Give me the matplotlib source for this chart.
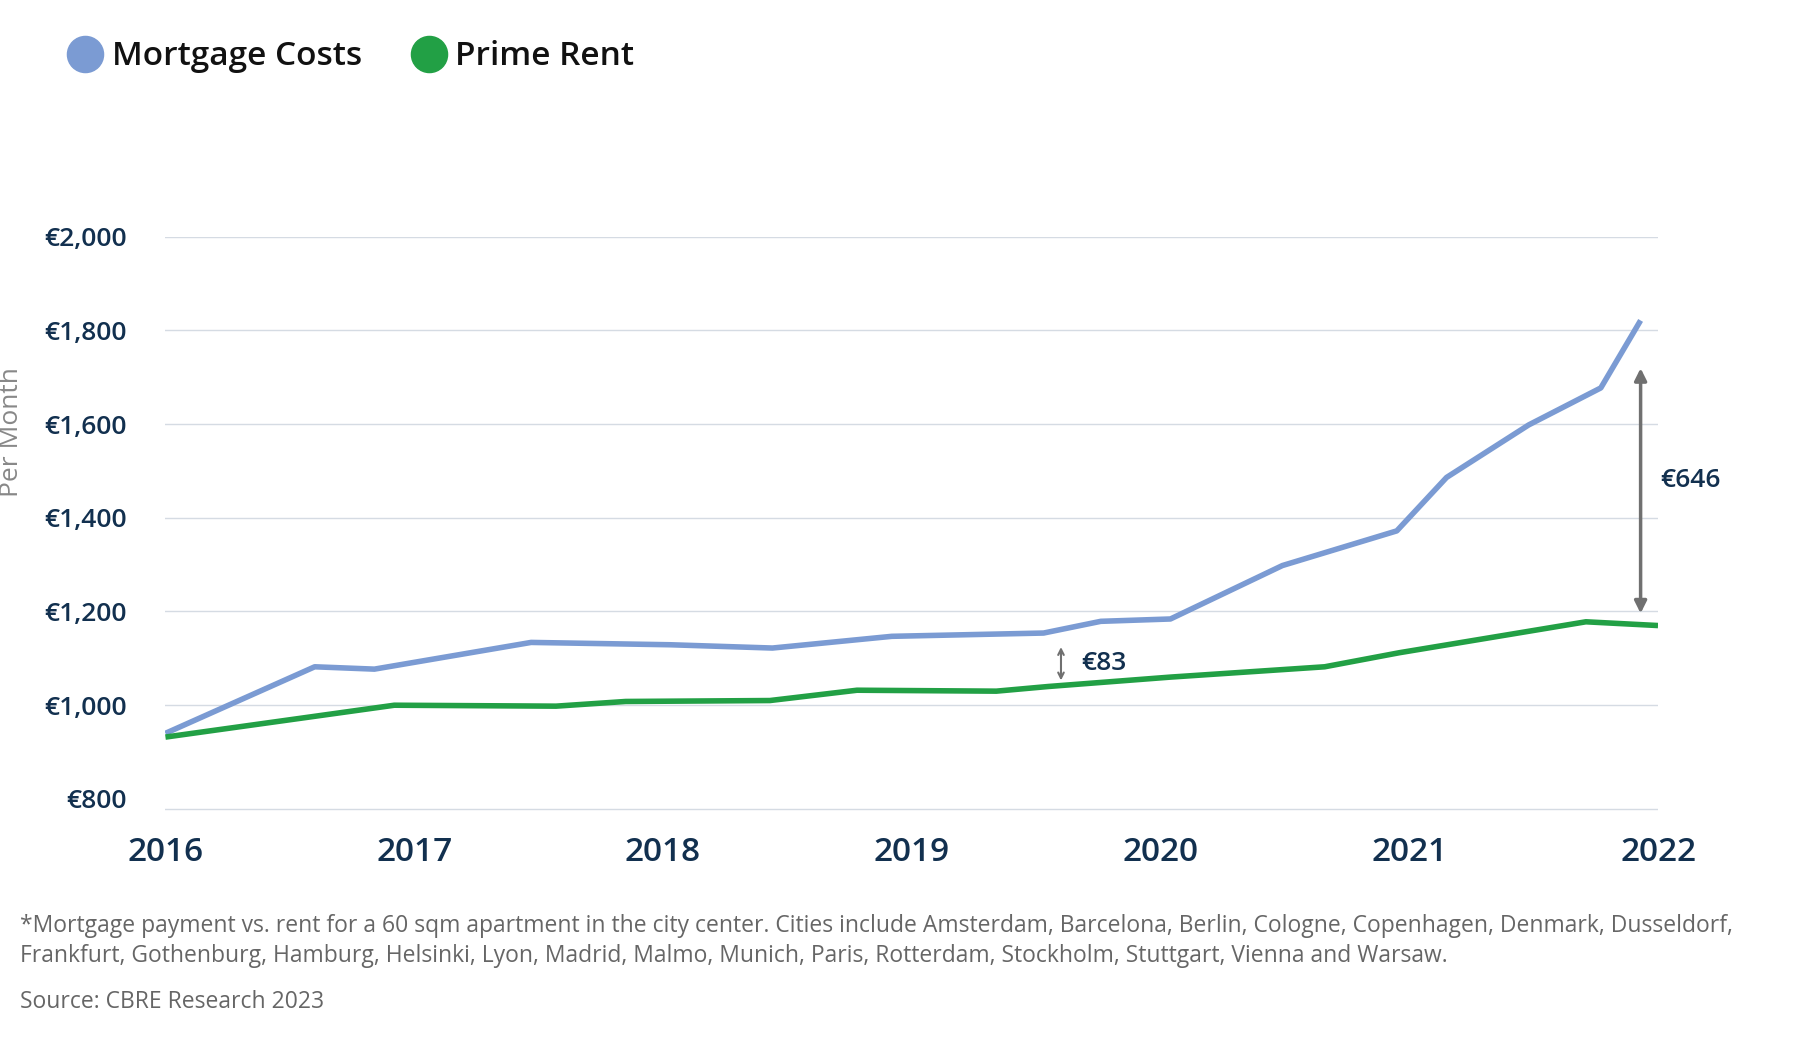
import matplotlib.pyplot as plt
from matplotlib.lines import Line2D

plt.rcParams['font.family'] = ['Open Sans', 'DejaVu Sans']

mort_x = [2016.0, 2016.60, 2016.84, 2017.47, 2018.03, 2018.44, 2018.92, 2019.53,
          2019.76, 2020.04, 2020.49, 2020.95, 2021.15, 2021.48, 2021.77, 2021.93]
mort_y = [940, 1082, 1077, 1134, 1129, 1122, 1147, 1154,
          1179, 1184, 1298, 1372, 1486, 1598, 1677, 1821]
rent_x = [2016.0, 2016.92, 2017.57, 2017.85, 2018.43, 2018.78, 2019.34, 2019.55,
          2020.04, 2020.66, 2020.96, 2021.71, 2022.0]
rent_y = [932, 1000, 998, 1008, 1010, 1032, 1030, 1040,
          1060, 1082, 1112, 1178, 1170]
years = [2016, 2017, 2018, 2019, 2020, 2021, 2022]
yticks = [800, 1000, 1200, 1400, 1600, 1800, 2000]

navy = '#12304f'
blue = '#7b9bd3'
green = '#22a045'

fig = plt.figure(figsize=(18.18, 10.42), dpi=100)
ax = fig.add_axes([0.091, 0.222, 0.821, 0.551])
ax.plot(mort_x, mort_y, color=blue, lw=4, solid_capstyle='butt')
ax.plot(rent_x, rent_y, color=green, lw=4, solid_capstyle='butt')
ax.set_xlim(2016, 2022)
ax.set_ylim(775, 2000)
for v in yticks:
    ax.axhline(v if v > 800 else 778, color='#d5dbe3', lw=1, zorder=0)
for s in ax.spines.values():
    s.set_visible(False)
ax.set_yticks(yticks)
ax.set_yticklabels([f'€{v:,}' for v in yticks], fontsize=19, fontweight='semibold', color=navy)
ax.tick_params(axis='y', length=0, pad=28)
ax.set_xticks(years)
ax.set_xticklabels([str(y) for y in years], fontsize=24, fontweight='semibold', color=navy)
ax.tick_params(axis='x', length=0, pad=18)
ax.set_ylabel('Per Month', fontsize=19, color='#888888')
ax.yaxis.set_label_coords(-0.095, 0.66)

# gap annotations
ax.annotate('', xy=(2019.6, 1047), xytext=(2019.6, 1130),
            arrowprops=dict(arrowstyle='<->', color='#707070', lw=1.5))
ax.text(2019.68, 1090, '€83', fontsize=19, color=navy, va='center', fontweight='semibold')
ax.annotate('', xy=(2021.93, 1190), xytext=(2021.93, 1725),
            arrowprops=dict(arrowstyle='<|-|>', color='#707070', lw=2.5, mutation_scale=18))
ax.text(2022.01, 1480, '€646', fontsize=19, color=navy, va='center', fontweight='semibold')

# legend
handles = [Line2D([], [], marker='o', ls='', ms=26, color=blue),
           Line2D([], [], marker='o', ls='', ms=26, color=green)]
leg = fig.legend(handles, ['Mortgage Costs', 'Prime Rent'], loc='upper left',
                 bbox_to_anchor=(0.012, 0.99), ncol=2, frameon=False,
                 fontsize=24, handletextpad=-0.2, columnspacing=1.0)
for t in leg.get_texts():
    t.set_color('#111111')
    t.set_fontweight('semibold')

fig.text(0.011, 0.097, '*Mortgage payment vs. rent for a 60 sqm apartment in the city center. '
         'Cities include Amsterdam, Barcelona, Berlin, Cologne, Copenhagen, Denmark, Dusseldorf,\n'
         'Frankfurt, Gothenburg, Hamburg, Helsinki, Lyon, Madrid, Malmo, Munich, Paris, Rotterdam, '
         'Stockholm, Stuttgart, Vienna and Warsaw.',
         fontsize=16.5, color='#666666', va='center', linespacing=1.3)
fig.text(0.011, 0.038, 'Source: CBRE Research 2023', fontsize=16.5, color='#666666', va='center')

fig.savefig('out.png', dpi=100, facecolor='white')
